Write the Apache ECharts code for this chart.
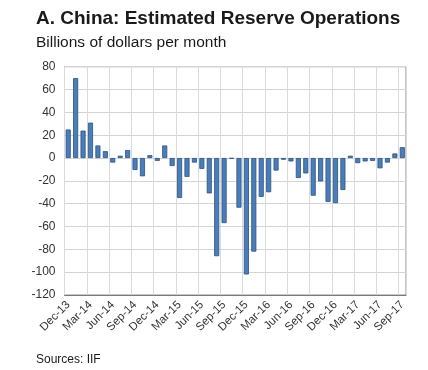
<!DOCTYPE html>
<html>
<head>
<meta charset="utf-8">
<script src="https://cdn.jsdelivr.net/npm/echarts@6/dist/echarts.min.js"></script>
<style>
html,body{margin:0;padding:0;background:#fff;}
#chart{width:428px;height:370px;}
</style>
</head>
<body>
<div id="chart"></div>
<script>
const titleText = 'A. China: Estimated Reserve Operations';
const subtitleText = 'Billions of dollars per month';
const sourceText = 'Sources: IIF';

const categories = [
  'Dec-13',
  'Jan-14','Feb-14','Mar-14','Apr-14','May-14','Jun-14','Jul-14','Aug-14','Sep-14','Oct-14','Nov-14','Dec-14',
  'Jan-15','Feb-15','Mar-15','Apr-15','May-15','Jun-15','Jul-15','Aug-15','Sep-15','Oct-15','Nov-15','Dec-15',
  'Jan-16','Feb-16','Mar-16','Apr-16','May-16','Jun-16','Jul-16','Aug-16','Sep-16','Oct-16','Nov-16','Dec-16',
  'Jan-17','Feb-17','Mar-17','Apr-17','May-17','Jun-17','Jul-17','Aug-17','Sep-17'
];

const reserveOps = [
  25,
  70, 24, 31, 11, 6, -4, 2, 7, -10.5, -16, 2.5, -2.5,
  11, -7, -35, -16.5, -4, -9.5, -31, -86, -57, -0.5, -43.5, -102,
  -82, -34, -30, -11, -1.5, -3, -17.5, -13.5, -33, -20.5, -38.5, -39.5,
  -28, 2, -4.5, -3, -2.5, -9, -4, 4, 9.5
];

const yMin = -120, yMax = 80, yStep = 20;

const FONT = '"Liberation Sans", Arial, sans-serif';
const chart = echarts.init(document.getElementById('chart'), null, {renderer: 'canvas'});
chart.setOption({
  animation: false,
  backgroundColor: '#ffffff',
  title: [
    {text: titleText, left: 31, top: 4,
     textStyle: {fontFamily: FONT, fontSize: 19, fontWeight: 'bold', color: '#1a1a1a'}},
    {text: subtitleText, left: 31, top: 30,
     textStyle: {fontFamily: FONT, fontSize: 15.5, fontWeight: 'normal', color: '#1a1a1a'}},
    {text: sourceText, left: 31, top: 349,
     textStyle: {fontFamily: FONT, fontSize: 12, fontWeight: 'normal', color: '#1a1a1a'}}
  ],
  grid: {left: 64.5, right: 22, top: 66.7, bottom: 75, show: true,
         borderColor: '#8c8c8c', borderWidth: 1, containLabel: false},
  xAxis: {
    type: 'category',
    data: categories,
    boundaryGap: true,
    axisLine: {show: true, onZero: false, lineStyle: {color: '#7a7a7a', width: 1}},
    axisTick: {show: false},
    splitLine: {show: true, interval: 2, lineStyle: {color: '#dadada', width: 1}},
    axisLabel: {interval: 2, rotate: 45, margin: 8, fontFamily: FONT, fontSize: 11.5, color: '#333333'}
  },
  yAxis: {
    type: 'value',
    min: yMin, max: yMax, interval: yStep,
    axisLine: {show: false},
    axisTick: {show: false},
    splitLine: {show: true, lineStyle: {color: '#d4d4d4', width: 1}},
    axisLabel: {margin: 9, fontFamily: FONT, fontSize: 12, color: '#333333'}
  },
  series: [{
    type: 'bar',
    data: reserveOps,
    barCategoryGap: '32%',
    itemStyle: {color: '#4a7ebb', borderColor: '#2b5080', borderWidth: 0.8}
  }]
});
</script>
</body>
</html>
